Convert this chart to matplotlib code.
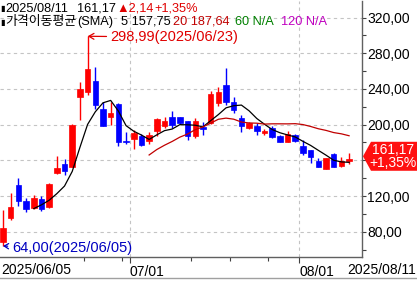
import matplotlib
matplotlib.use('Agg')
import matplotlib.pyplot as plt
from matplotlib import font_manager
from matplotlib.patches import Polygon
from matplotlib.lines import Line2D
from matplotlib.transforms import IdentityTransform
import numpy as np
import pandas as pd

# ---------------- data ----------------
opens = [68.5, 95.4, 132.3, 114.4, 106.6, 116.6, 107.7, 145.8, 155.9, 152.5,
         230.9, 236.5, 248.9, 217.5, 208.5, 223.1, 181.6, 183.9, 187.2, 181.6,
         192.8, 198.4, 208.5, 208.5, 204.0, 187.2, 197.3, 201.8, 224.2, 244.4,
         225.3, 207.4, 196.2, 198.4, 190.6, 196.2, 187.2, 180.5, 188.3, 176.0,
         171.5, 159.2, 150.3, 167.1, 153.6, 159.5]
highs = [104.3, 123.4, 140.2, 118.0, 121.1, 120.0, 134.6, 164.8, 161.5, 200.7,
         247.7, 298.99, 264.5, 225.3, 225.3, 224.5, 191.7, 194.0, 189.5, 191.7,
         207.4, 208.5, 215.2, 209.0, 204.5, 207.4, 202.9, 237.6, 242.1, 263.4,
         230.9, 210.8, 202.9, 201.8, 195.1, 198.4, 188.0, 192.8, 189.0, 182.7,
         172.0, 162.6, 163.0, 168.2, 163.7, 168.2]
lows = [64.0, 93.1, 108.8, 102.1, 105.4, 103.2, 107.0, 145.0, 143.5, 152.0,
        205.2, 233.0, 217.5, 198.0, 199.6, 176.0, 178.2, 172.7, 176.5, 178.2,
        187.2, 196.2, 196.2, 201.0, 182.7, 185.0, 188.3, 201.0, 220.8, 222.0,
        213.0, 191.7, 195.5, 188.3, 188.3, 184.5, 180.0, 180.0, 181.0, 165.9,
        157.0, 152.0, 150.0, 152.0, 153.0, 155.9]
closes = [84.2, 107.7, 114.4, 105.4, 117.8, 105.4, 133.4, 151.4, 148.0, 199.6,
          239.9, 262.3, 222.0, 198.4, 213.0, 180.5, 180.5, 190.6, 177.1, 188.3,
          206.3, 204.0, 199.6, 201.8, 187.2, 204.0, 195.0, 234.0, 236.0, 225.0,
          216.0, 198.5, 201.8, 193.0, 192.8, 186.5, 180.5, 189.5, 181.6, 168.2,
          163.7, 153.0, 162.5, 153.05, 159.03, 161.17]

first_date = '2025/06/05'
last_date = '2025/08/11'
month_labels = ['07/01', '08/01']
month_start_idx = [17, 39]
minor_tick_idx = [11, 16, 25, 30, 35]

high_idx, high_text = 11, '298,99(2025/06/23)'
low_idx, low_text = 0, '64,00(2025/06/05)'

header1 = [('2025/08/11', '#000000'), ('161,17', '#000000'),
           ('▲2,14', '#E00000'), ('+1,35%', '#E00000')]
header2 = [('가격이동평균', '#000000'), ('(SMA)', '#000000'),
           ('5 157,75', '#000000'), ('20 187,64', '#C00000'),
           ('60 N/A', '#008000'), ('120 N/A', '#C000C0')]
bullet = '▮'
price_box_lines = ['161,17', '+1,35%']
y_label_values = [80, 120, 200, 240, 280, 320]

# ---------------- fonts ----------------
avail = {f.name for f in font_manager.fontManager.ttflist}
latin = 'Liberation Sans Narrow' if 'Liberation Sans Narrow' in avail else 'Liberation Sans'
FAM = [latin, 'Noto Sans CJK KR', 'DejaVu Sans']
plt.rcParams['font.family'] = FAM

W, H = 417, 281
fig = plt.figure(figsize=(W / 100, H / 100), dpi=100)
fig.patch.set_facecolor('white')
ax = fig.add_axes([0, 24 / H, 361.7 / W, 256 / H])
ax.set_facecolor('white')

n = len(closes)
x = np.arange(n)
o = np.array(opens); c = np.array(closes); hi = np.array(highs); lo = np.array(lows)
up = c >= o
RED, BLUE = '#FF0000', '#0000FF'
colors = np.where(up, RED, BLUE)

ax.vlines(x, lo, hi, colors=colors, lw=1.0, zorder=3)
bottoms = np.minimum(o, c)
heights = np.maximum(np.abs(c - o), 1.3)
ax.bar(x, heights, bottom=bottoms, width=0.72, color=colors, edgecolor=colors,
       linewidth=0.5, zorder=4)

cs = pd.Series(closes)
sma5 = cs.rolling(5).mean()
sma20 = cs.rolling(20).mean()
ax.plot(x, sma5, color='#000000', lw=0.9, zorder=5)
ax.plot(x, sma20, color='#C00000', lw=0.9, zorder=5)

ax.set_xlim(-0.39, 46.64)
ax.set_ylim(51.7, 338.5)

# grid
for v in range(80, 340, 40):
    ax.axhline(v, color='#C4C4C4', lw=0.8, ls=(0, (3, 3)), zorder=1)
for i in month_start_idx:
    ax.axvline(i - 0.5, color='#C4C4C4', lw=0.8, ls=(0, (3, 3)), zorder=1)

# spines
for s in ['left', 'top']:
    ax.spines[s].set_visible(False)
for s in ['right', 'bottom']:
    ax.spines[s].set_color('#606060')
    ax.spines[s].set_linewidth(1.0)

# y axis on right
ax.yaxis.tick_right()
ax.set_yticks(y_label_values)
ax.set_yticklabels([f'{v:.2f}'.replace('.', ',') for v in y_label_values])
ax.set_yticks(np.arange(60, 340, 20), minor=True)
ax.tick_params(axis='y', which='major', length=3, width=0.8, color='#404040',
               pad=1, labelsize=10, labelcolor='#000000')
ax.tick_params(axis='y', which='minor', length=3, width=0.8, color='#404040')

# x axis
ax.set_xticks([i - 0.5 for i in month_start_idx])
ax.set_xticklabels(month_labels)
ax.set_xticks([i - 0.5 for i in minor_tick_idx], minor=True)
ax.tick_params(axis='x', which='major', length=4, width=0.8, color='#404040',
               pad=2, labelsize=10)
ax.tick_params(axis='x', which='minor', length=3, width=0.8, color='#404040')
for lab in ax.get_xticklabels():
    lab.set_horizontalalignment('left')
ax.text(0.004, -0.023, first_date, transform=ax.transAxes, ha='left', va='top',
        fontsize=10, color='#000000')
fig.text(416 / W, 1 - 263 / H, last_date, ha='right', va='top', fontsize=10,
         color='#000000')

# high / low annotations
ax.annotate(high_text, xy=(high_idx, highs[high_idx]),
            xytext=(high_idx + 3.0, highs[high_idx] - 1.0), textcoords='data',
            ha='left', va='center', fontsize=10.5, color='#E00000',
            arrowprops=dict(arrowstyle='->,head_length=0.35,head_width=0.2',
                            color='#E00000', lw=0.9, shrinkA=1, shrinkB=0))
ax.annotate(low_text, xy=(low_idx, lows[low_idx]),
            xytext=(low_idx + 1.15, lows[low_idx] - 2.5), textcoords='data',
            ha='left', va='center', fontsize=10.5, color='#0000C0',
            arrowprops=dict(arrowstyle='->,head_length=0.3,head_width=0.18',
                            color='#0000C0', lw=0.9, shrinkA=1, shrinkB=0))

# header texts
for yy in (8.5, 22):
    fig.text(0.0, 1 - yy / H, bullet, ha='left', va='center', fontsize=6,
             color='#000000', family=['DejaVu Sans'])
x1 = [5, 77, 116, 154]
for (t, col), px in zip(header1, x1):
    fig.text(px / W, 1 - 8.5 / H, t, ha='left', va='center', fontsize=9.2, color=col)

fig.canvas.draw()
renderer = fig.canvas.get_renderer()
x2 = [5, None, 121, 173, 235, 281]
prev = None
for (t, col), px in zip(header2, x2):
    fs = 9.3 if t == '가격이동평균' else 9.2
    if px is None:
        px = prev.get_window_extent(renderer).x1 + 0.5
    prev = fig.text(px / W, 1 - 22 / H, t, ha='left', va='center', fontsize=fs,
                    color=col)

# price box on the right axis
_, ypix = ax.transData.transform((0, closes[-1]))
tip_y = ypix + 3
box = Polygon([(363, tip_y), (371, tip_y + 14.5), (417, tip_y + 14.5),
               (417, tip_y - 14.5), (371, tip_y - 14.5)], closed=True,
              facecolor='#FF1010', edgecolor='none', transform=IdentityTransform(),
              zorder=20)
fig.add_artist(box)
fig.text(393 / W, (tip_y + 6.5) / H, price_box_lines[0], ha='center', va='center',
         fontsize=10, color='white', zorder=21)
fig.text(393 / W, (tip_y - 6.5) / H, price_box_lines[1], ha='center', va='center',
         fontsize=10, color='white', zorder=21)

# bottom window line
fig.add_artist(Line2D([0, 1], [1 - 278 / H, 1 - 278 / H], color='#A0A0A0', lw=1.0,
                      transform=fig.transFigure))

fig.savefig('out.png', dpi=100, facecolor='white')
